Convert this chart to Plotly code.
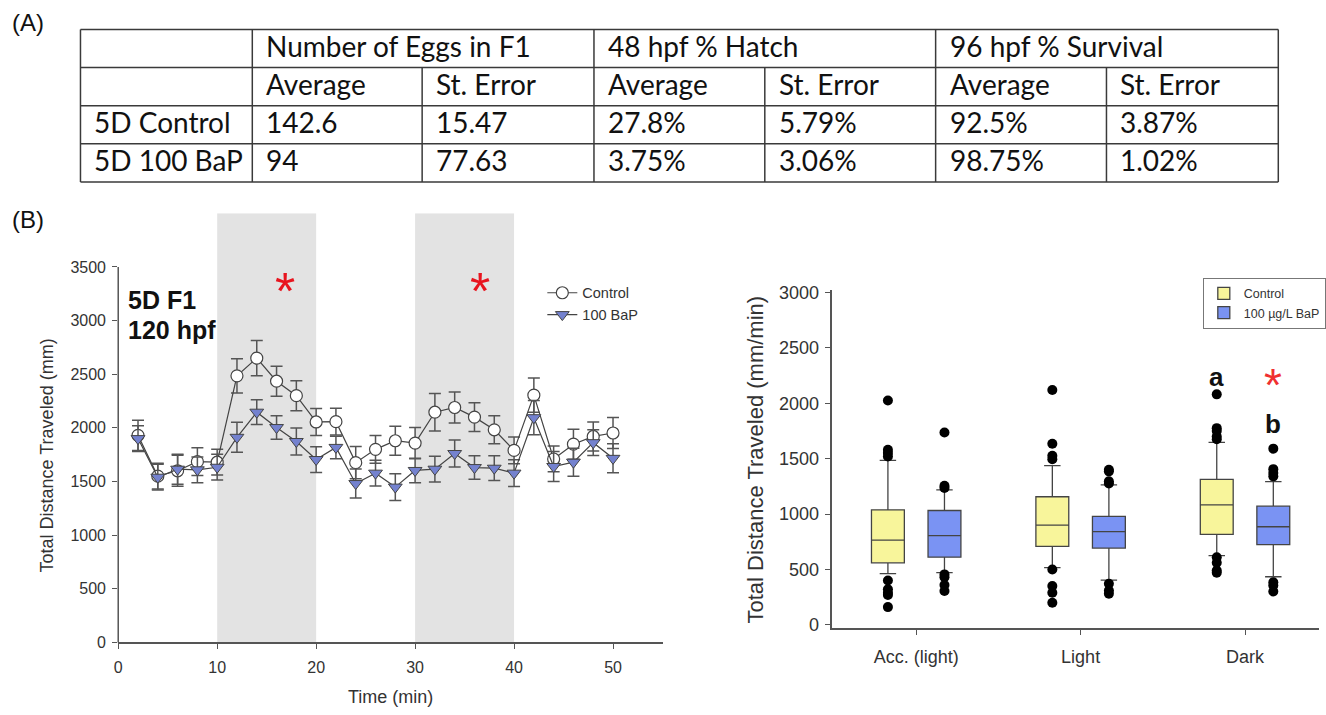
import plotly.graph_objects as go

W, H = 1326, 715

# ---------------- (A) summary table ----------------
table_groups = ["Number of Eggs in F1", "48 hpf % Hatch", "96 hpf % Survival"]
table_stats = ["Average", "St. Error"]
table_rows = ["5D Control", "5D 100 BaP"]
control_row = ["142.6", "15.47", "27.8%", "5.79%", "92.5%", "3.87%"]
bap_row = ["94", "77.63", "3.75%", "3.06%", "98.75%", "1.02%"]

# ---------------- (B) left: distance over time ----------------
time_min = [2, 4, 6, 8, 10, 12, 14, 16, 18, 20, 22, 24, 26, 28, 30,
            32, 34, 36, 38, 40, 42, 44, 46, 48, 50]
ctrl_mean = [1930, 1550, 1600, 1685, 1680, 2485, 2650, 2435, 2300, 2055,
             2058, 1676, 1800, 1880, 1858, 2146, 2190, 2100, 1982, 1790,
             2305, 1710, 1848, 1920, 1952]
ctrl_se = [140, 120, 145, 130, 120, 160, 165, 140, 140, 125,
           125, 150, 130, 135, 145, 175, 145, 135, 130, 125,
           160, 120, 140, 135, 145]
bap_mean = [1900, 1540, 1615, 1609, 1633, 1912, 2146, 2003, 1873, 1705,
            1818, 1481, 1578, 1448, 1603, 1615, 1761, 1630, 1624, 1578,
            2095, 1640, 1680, 1862, 1716]
bap_se = [120, 120, 140, 120, 120, 140, 115, 110, 125, 120,
          105, 135, 120, 125, 115, 120, 125, 110, 115, 125,
          160, 140, 130, 120, 135]
dark_periods = [(10, 20), (30, 40)]
sig_times = [16.9, 36.6]

# ---------------- (B) right: distance per phase ----------------
box_categories = ["Acc. (light)", "Light", "Dark"]
ctrl_low = [463, 516, 625]
ctrl_q1 = [560, 708, 817]
ctrl_median = [764, 900, 1083]
ctrl_q3 = [1038, 1156, 1313]
ctrl_high = [1484, 1437, 1646]
ctrl_outliers = [[2025, 1580, 1550, 1520, 400, 320, 290, 270, 160],
                 [2120, 1635, 1525, 1495, 500, 350, 290, 200],
                 [2080, 1775, 1750, 1700, 1675, 610, 560, 490, 470]]
bap_low = [472, 404, 434]
bap_q1 = [611, 693, 723]
bap_median = [805, 841, 885]
bap_q3 = [1032, 979, 1071]
bap_high = [1218, 1263, 1292]
bap_outliers = [[1735, 1255, 1235, 455, 430, 360, 305],
                [1400, 1385, 1295, 1275, 370, 310, 280],
                [1590, 1405, 1370, 1340, 385, 355, 300]]

FONT = "Liberation Sans, Arial, sans-serif"
TABLE_FONT = "Lato, Liberation Sans, sans-serif"
INK = "#333333"


def px(x):
    return x / W


def py(y):
    return 1 - y / H


fig = go.Figure()
shapes = []
annotations = []

# ---- table grid ----
col_x = [77, 250, 421, 594, 766, 938, 1110, 1283]
row_y = [23, 62, 101, 140, 179]
line_style = dict(color="#3a3a3a", width=1.5)
for y in row_y:
    shapes.append(dict(type="line", xref="paper", yref="paper",
                       x0=px(col_x[0]), x1=px(col_x[-1]), y0=py(y), y1=py(y),
                       line=line_style))
for i, x in enumerate(col_x):
    top = row_y[0] if i in (0, 1, 3, 5, 7) else row_y[1]
    shapes.append(dict(type="line", xref="paper", yref="paper",
                       x0=px(x), x1=px(x), y0=py(top), y1=py(row_y[-1]),
                       line=line_style))


def cell_text(text, col, row):
    yc = (row_y[row] + row_y[row + 1]) / 2 - 3
    annotations.append(dict(text=text, xref="paper", yref="paper",
                            x=px(col_x[col] + 12), y=py(yc),
                            xanchor="left", yanchor="middle", showarrow=False,
                            font=dict(family=TABLE_FONT, size=28, color="#111")))


for g, name in enumerate(table_groups):
    cell_text(name, 1 + 2 * g, 0)
    for s, stat in enumerate(table_stats):
        cell_text(stat, 1 + 2 * g + s, 1)
for r, (label, vals) in enumerate(zip(table_rows, [control_row, bap_row])):
    cell_text(label, 0, 2 + r)
    for c, v in enumerate(vals):
        cell_text(v, 1 + c, 2 + r)

for label, y in (("(A)", 16), ("(B)", 217)):
    annotations.append(dict(text=label, xref="paper", yref="paper",
                            x=px(6), y=py(y), xanchor="left", yanchor="middle",
                            showarrow=False, font=dict(family=FONT, size=24, color="#111")))

# ---- left chart ----
L_X = (115, 663)
L_Y = (650, 211)
L_RANGE_Y = (0, 4000)
for x0, x1 in dark_periods:
    shapes.append(dict(type="rect", xref="x", yref="y", x0=x0, x1=x1,
                       y0=L_RANGE_Y[0], y1=L_RANGE_Y[1], layer="below",
                       fillcolor="#e3e3e3", line=dict(width=0)))
# y-axis line only up to the last tick
yd0, yd1 = py(L_Y[0]), py(L_Y[1])
y_top = yd0 + (3500 - L_RANGE_Y[0]) / (L_RANGE_Y[1] - L_RANGE_Y[0]) * (yd1 - yd0)
shapes.append(dict(type="line", xref="paper", yref="paper",
                   x0=px(L_X[0]), x1=px(L_X[0]), y0=yd0, y1=y_top,
                   line=dict(color="#555", width=1.5)))

fig.add_trace(go.Scatter(
    x=time_min, y=ctrl_mean, name="Control", mode="lines+markers",
    line=dict(color="#444", width=1.2),
    marker=dict(symbol="circle", size=12, color="white", line=dict(color="#444", width=1.2)),
    error_y=dict(type="data", array=ctrl_se, visible=True, color="#555", thickness=1.5, width=6),
    xaxis="x", yaxis="y", legend="legend2"))
fig.add_trace(go.Scatter(
    x=time_min, y=bap_mean, name="100 BaP", mode="lines+markers",
    line=dict(color="#444", width=1.2),
    marker=dict(symbol="triangle-down", size=12, color="#7482cf", line=dict(color="#444", width=1)),
    error_y=dict(type="data", array=bap_se, visible=True, color="#555", thickness=1.5, width=6),
    xaxis="x", yaxis="y", legend="legend2"))

for t in sig_times:
    annotations.append(dict(text="*", xref="x", yref="y", x=t, y=3330, yshift=-6,
                            showarrow=False, font=dict(family=FONT, size=52, color="#e8141e")))

for line_text, yc in (("5D F1", 300), ("120 hpf", 330)):
    annotations.append(dict(text="<b>" + line_text + "</b>", xref="paper", yref="paper",
                            x=px(123), y=py(yc), xanchor="left", yanchor="middle",
                            showarrow=False, font=dict(family=FONT, size=25, color="#111")))
annotations.append(dict(text="Total Distance Traveled (mm)", xref="paper", yref="paper",
                        x=px(43), y=py(459), xanchor="center", yanchor="middle",
                        textangle=-90, showarrow=False,
                        font=dict(family=FONT, size=18, color=INK)))
annotations.append(dict(text="Time (min)", xref="paper", yref="paper",
                        x=px(389), y=py(706), xanchor="center", yanchor="middle",
                        showarrow=False, font=dict(family=FONT, size=18, color=INK)))

# ---- right chart ----
offset, box_w = 0.172, 0.2
pos = [i + 1 for i in range(len(box_categories))]
fig.add_trace(go.Box(
    x=[p - offset for p in pos], q1=ctrl_q1, median=ctrl_median, q3=ctrl_q3,
    lowerfence=ctrl_low, upperfence=ctrl_high, name="Control", width=box_w,
    fillcolor="#f8f59b", line=dict(color="#444", width=1.3), whiskerwidth=0.5,
    boxpoints=False, xaxis="x2", yaxis="y2", legend="legend"))
fig.add_trace(go.Box(
    x=[p + offset for p in pos], q1=bap_q1, median=bap_median, q3=bap_q3,
    lowerfence=bap_low, upperfence=bap_high, name="100 µg/L BaP", width=box_w,
    fillcolor="#7a93f3", line=dict(color="#444", width=1.3), whiskerwidth=0.5,
    boxpoints=False, xaxis="x2", yaxis="y2", legend="legend"))
for outs, sign in ((ctrl_outliers, -1), (bap_outliers, 1)):
    xs, ys = [], []
    for p, vals in zip(pos, outs):
        xs += [p + sign * offset] * len(vals)
        ys += vals
    fig.add_trace(go.Scatter(x=xs, y=ys, mode="markers", showlegend=False,
                             marker=dict(color="black", size=10),
                             xaxis="x2", yaxis="y2"))

annotations.append(dict(text="<b>a</b>", xref="x2", yref="y2", x=3 - offset, y=2241,
                        showarrow=False, font=dict(family=FONT, size=26, color="#111")))
annotations.append(dict(text="<b>b</b>", xref="x2", yref="y2", x=3 + offset, y=1812,
                        showarrow=False, font=dict(family=FONT, size=26, color="#111")))
annotations.append(dict(text="*", xref="x2", yref="y2", x=3 + offset, y=2253, yshift=-10,
                        showarrow=False, font=dict(family=FONT, size=46, color="#f03030")))
annotations.append(dict(text="Total Distance Traveled (mm/min)", xref="paper", yref="paper",
                        x=px(757), y=py(463), xanchor="center", yanchor="middle",
                        textangle=-90, showarrow=False,
                        font=dict(family=FONT, size=22, color=INK)))

axis_common = dict(showgrid=False, zeroline=False, ticks="outside", tickcolor="#555",
                   linecolor="#555", linewidth=1.5)

fig.update_layout(
    width=W, height=H, margin=dict(l=0, r=0, t=0, b=0),
    paper_bgcolor="white", plot_bgcolor="white",
    font=dict(family=FONT, color=INK),
    xaxis=dict(domain=[px(L_X[0]), px(L_X[1])], range=[0, 55], anchor="y",
               tickvals=[0, 10, 20, 30, 40, 50], ticklen=5, showline=True,
               ticklabelstandoff=5, tickfont=dict(size=16, color=INK), **axis_common),
    yaxis=dict(domain=[yd0, yd1], range=list(L_RANGE_Y), anchor="x",
               tickvals=[0, 500, 1000, 1500, 2000, 2500, 3000, 3500], ticklen=5,
               ticklabelstandoff=3, showline=False,
               tickfont=dict(size=16, color=INK), **axis_common),
    xaxis2=dict(domain=[px(834), px(1324)], range=[0.49, 3.45], anchor="y2",
                tickvals=pos, ticktext=box_categories, ticklen=6, showline=True,
                ticklabelstandoff=6, tickfont=dict(size=18, color=INK), **axis_common),
    yaxis2=dict(domain=[py(634.8), py(289.7)], range=[-25, 3020], anchor="x2",
                tickvals=[0, 500, 1000, 1500, 2000, 2500, 3000], ticklen=6, showline=True,
                ticklabelstandoff=2, tickfont=dict(size=18, color=INK), **axis_common),
    legend=dict(x=px(1207), y=py(277), xanchor="left", yanchor="top",
                bgcolor="white", bordercolor="#777", borderwidth=1,
                font=dict(size=12.5, color=INK), itemwidth=30, tracegroupgap=0),
    legend2=dict(x=px(542), y=py(276), xanchor="left", yanchor="top",
                 bgcolor="rgba(0,0,0,0)", borderwidth=0,
                 font=dict(size=14.5, color=INK), itemwidth=30),
    shapes=shapes,
    annotations=annotations,
)

fig.write_html("out.html")
